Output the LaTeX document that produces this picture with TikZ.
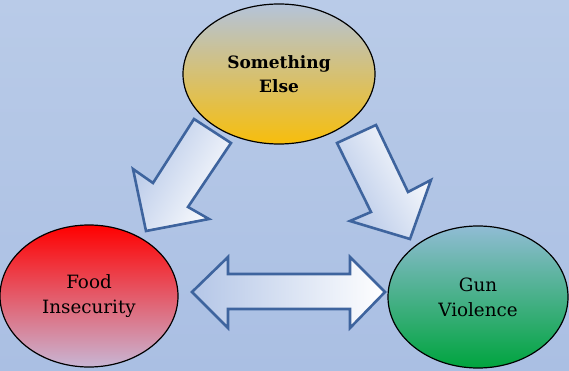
\documentclass[tikz,border=0pt]{standalone}
\usepackage{fontspec}
\setmainfont{DejaVu Serif}
\usetikzlibrary{shapes.geometric}
\definecolor{bgtop}{HTML}{B9CBE8}
\definecolor{bgbot}{HTML}{AABFE3}
\definecolor{arrline}{HTML}{3E649E}
\definecolor{arrlight}{HTML}{B4C6E7}
\definecolor{seTop}{HTML}{B4C3DA}
\definecolor{seBot}{HTML}{F7BE0C}
\definecolor{fiTop}{HTML}{FF0000}
\definecolor{fiBot}{HTML}{C8B6D4}
\definecolor{gvTop}{HTML}{90BCD4}
\definecolor{gvBot}{HTML}{00A43E}
\tikzset{
  blob/.style={ellipse, draw=black, line width=1.2pt, inner sep=0pt,
    align=center, font=\fontsize{18.3}{25}\selectfont},
  blockarrow/.style={draw=arrline, line width=2.6pt, line join=miter},
}
\begin{document}
\begin{tikzpicture}[x=1pt,y=-1pt]
\useasboundingbox (0,0) rectangle (569,371);
\shade[top color=bgtop, bottom color=bgbot] (0,0) rectangle (569,371);

\node[blob, top color=seTop, bottom color=seBot, minimum width=192pt, minimum height=140pt,
  font=\fontsize{17}{24}\selectfont\bfseries] (se) at (279,74) {Something\\Else};
\node[blob, top color=fiTop, bottom color=fiBot, minimum width=178pt, minimum height=142pt] (fi) at (89,296) {Food\\Insecurity};
\node[blob, top color=gvTop, bottom color=gvBot, minimum width=180pt, minimum height=142pt] (gv) at (478,297) {Gun\\Violence};

% left arrow: Something Else -> Food Insecurity
\shade[blockarrow, left color=arrlight, right color=white, shading angle=60]
  (194,119) -- (231,143) -- (188,207) -- (209,219) -- (146,231) -- (133,169) -- (153,183) -- cycle;
% right arrow: Something Else -> Gun Violence
\shade[blockarrow, left color=arrlight, right color=white, shading angle=120]
  (337,143) -- (376,125) -- (408,192) -- (431,180) -- (410,239) -- (350,221) -- (371,212) -- cycle;
% double arrow between Food Insecurity and Gun Violence
\shade[blockarrow, left color=arrlight, right color=white]
  (192,292) -- (228,257) -- (228,274) -- (350,274) -- (350,257) -- (385,292)
  -- (350,328) -- (350,309) -- (228,309) -- (228,328) -- cycle;
\end{tikzpicture}
\end{document}
